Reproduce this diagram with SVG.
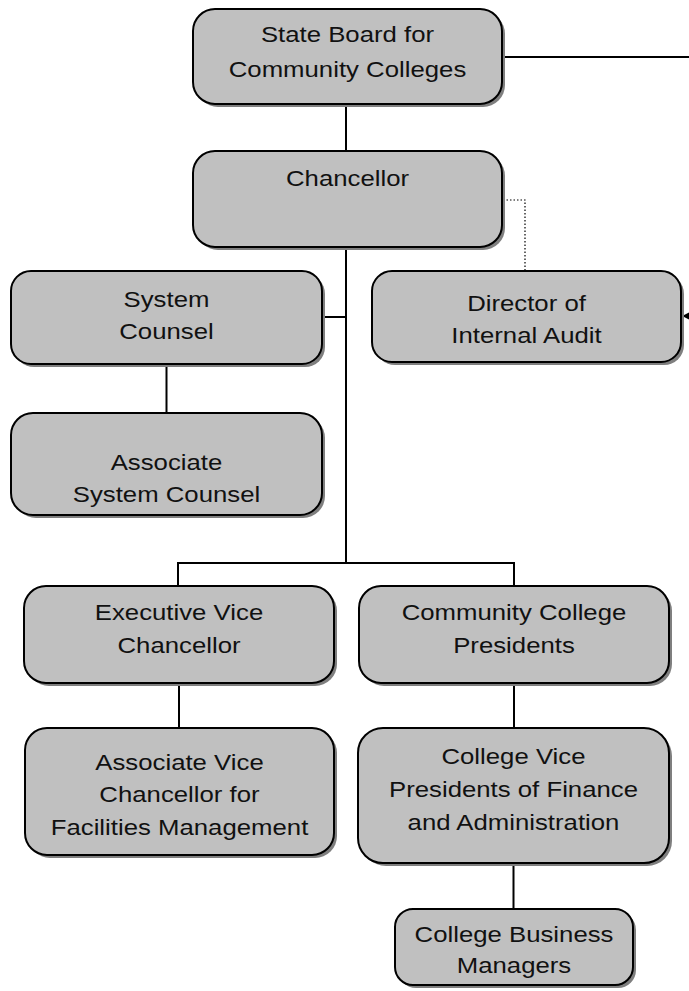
<svg xmlns="http://www.w3.org/2000/svg" width="689" height="991" viewBox="0 0 689 991">
<style>
.sh{fill:#7f7f7f;stroke:none}
.bx{fill:#c0c0c0;stroke:#000;stroke-width:2}
.t{font-family:"Liberation Sans",Arial,sans-serif;font-size:23px;fill:#111;text-anchor:middle}
.c{fill:none;stroke:#000;stroke-width:2}
.d{fill:none;stroke:#000;stroke-width:1.2;stroke-dasharray:1.5 2}
</style>
<defs>
<marker id="ah" viewBox="0 0 10 10" refX="9" refY="5" markerWidth="4" markerHeight="4" orient="auto" markerUnits="strokeWidth">
<path d="M0 0 L10 5 L0 10 Z" fill="#000"/>
</marker>
</defs>
<g id="connectors">
<path class="c" d="M346 104 V151"/>
<path class="c" d="M346 247 V563"/>
<path class="c" d="M322 317 H346"/>
<path class="c" d="M166.5 364 V413"/>
<path class="c" d="M178 586 V563 H514 V586"/>
<path class="c" d="M179 683 V728"/>
<path class="c" d="M514 683 V728"/>
<path class="c" d="M513.5 863 V909"/>
<path class="d" d="M503 200 H525 V271"/>
<path class="c" d="M503 57 H700 V316 H683" marker-end="url(#ah)"/>
</g>
<g id="board">
<rect class="sh" x="196" y="12" width="309" height="95" rx="22"/>
<rect class="bx" x="193" y="9" width="309" height="95" rx="22"/>
<text class="t" transform="translate(347.5 0) scale(1.12 1)"><tspan x="0" y="42">State Board for</tspan><tspan x="0" y="77">Community Colleges</tspan></text>
</g>
<g id="chancellor">
<rect class="sh" x="196" y="154" width="309" height="96" rx="22"/>
<rect class="bx" x="193" y="151" width="309" height="96" rx="22"/>
<text class="t" transform="translate(347.5 0) scale(1.12 1)"><tspan x="0" y="186">Chancellor</tspan></text>
</g>
<g id="system-counsel">
<rect class="sh" x="14" y="274" width="311" height="93" rx="20"/>
<rect class="bx" x="11" y="271" width="311" height="93" rx="20"/>
<text class="t" transform="translate(166.5 0) scale(1.12 1)"><tspan x="0" y="307">System</tspan><tspan x="0" y="339">Counsel</tspan></text>
</g>
<g id="director-internal-audit">
<rect class="sh" x="375" y="274" width="309" height="91" rx="20"/>
<rect class="bx" x="372" y="271" width="309" height="91" rx="20"/>
<text class="t" transform="translate(526.5 0) scale(1.12 1)"><tspan x="0" y="311">Director of</tspan><tspan x="0" y="343">Internal Audit</tspan></text>
</g>
<g id="associate-system-counsel">
<rect class="sh" x="14" y="416" width="311" height="102" rx="22"/>
<rect class="bx" x="11" y="413" width="311" height="102" rx="22"/>
<text class="t" transform="translate(166.5 0) scale(1.12 1)"><tspan x="0" y="470">Associate</tspan><tspan x="0" y="502">System Counsel</tspan></text>
</g>
<g id="executive-vice-chancellor">
<rect class="sh" x="27" y="589" width="310" height="97" rx="22"/>
<rect class="bx" x="24" y="586" width="310" height="97" rx="22"/>
<text class="t" transform="translate(179 0) scale(1.12 1)"><tspan x="0" y="620">Executive Vice</tspan><tspan x="0" y="653">Chancellor</tspan></text>
</g>
<g id="community-college-presidents">
<rect class="sh" x="362" y="589" width="310" height="97" rx="22"/>
<rect class="bx" x="359" y="586" width="310" height="97" rx="22"/>
<text class="t" transform="translate(514 0) scale(1.12 1)"><tspan x="0" y="620">Community College</tspan><tspan x="0" y="653">Presidents</tspan></text>
</g>
<g id="associate-vice-chancellor">
<rect class="sh" x="28" y="731" width="309" height="127" rx="22"/>
<rect class="bx" x="25" y="728" width="309" height="127" rx="22"/>
<text class="t" transform="translate(179.5 0) scale(1.12 1)"><tspan x="0" y="770">Associate Vice</tspan><tspan x="0" y="802">Chancellor for</tspan><tspan x="0" y="835">Facilities Management</tspan></text>
</g>
<g id="college-vice-presidents">
<rect class="sh" x="361" y="731" width="311" height="135" rx="25"/>
<rect class="bx" x="358" y="728" width="311" height="135" rx="25"/>
<text class="t" transform="translate(513.5 0) scale(1.12 1)"><tspan x="0" y="764">College Vice</tspan><tspan x="0" y="797">Presidents of Finance</tspan><tspan x="0" y="830">and Administration</tspan></text>
</g>
<g id="college-business-managers">
<rect class="sh" x="398" y="912" width="238" height="76" rx="18"/>
<rect class="bx" x="395" y="909" width="238" height="76" rx="18"/>
<text class="t" transform="translate(514 0) scale(1.12 1)"><tspan x="0" y="942">College Business</tspan><tspan x="0" y="973">Managers</tspan></text>
</g>
</svg>
